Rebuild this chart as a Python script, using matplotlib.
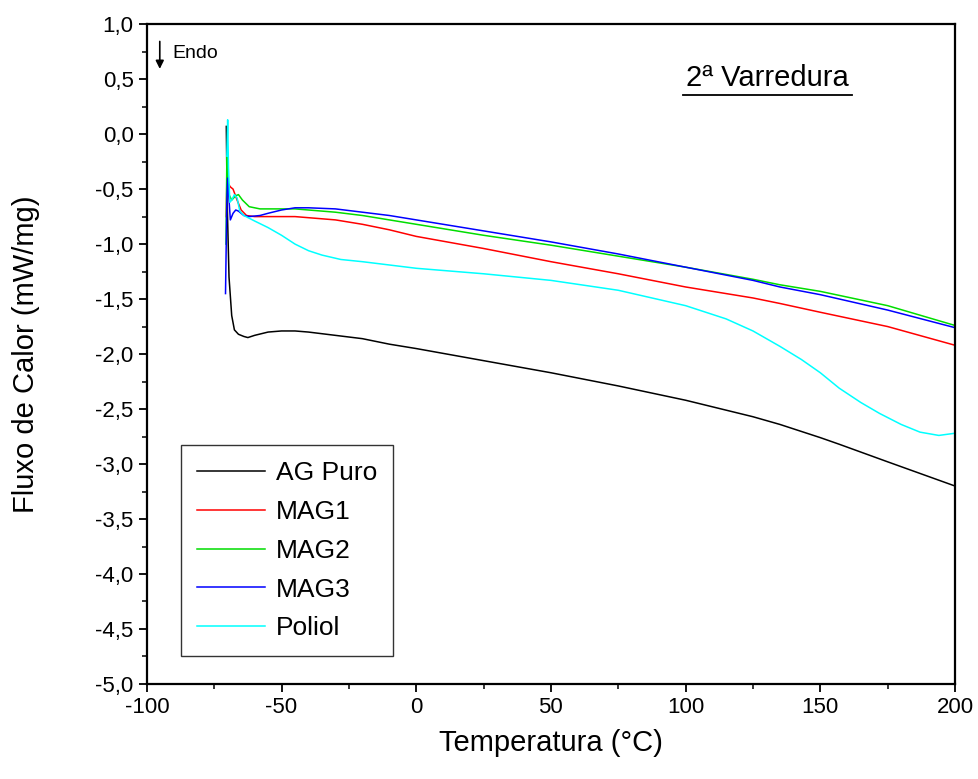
import matplotlib
matplotlib.use('Agg')
import matplotlib.pyplot as plt
from matplotlib.ticker import MultipleLocator, FuncFormatter

plt.rcParams['font.family'] = ['Liberation Sans', 'DejaVu Sans']

t_ag = [-70.5, -70.2, -69.5, -68.5, -67.5, -66, -64, -62.5, -60, -55, -50, -45, -40, -30, -20, -10, 0,
        25, 50, 75, 100, 125, 135, 150, 157, 175, 200]
ag_puro = [0.07, -0.6, -1.3, -1.65, -1.78, -1.82, -1.84, -1.85, -1.83, -1.80, -1.79, -1.79, -1.80, -1.83,
           -1.86, -1.91, -1.95, -2.06, -2.17, -2.29, -2.42, -2.57, -2.64, -2.76, -2.82, -2.98, -3.20]

t_mag1 = [-70.5, -70.2, -69.8, -69, -68, -66.5, -65, -63, -60, -55, -50, -45, -40, -30, -20, -10, 0,
          25, 50, 75, 100, 125, 135, 150, 175, 200]
mag1 = [-0.75, -0.25, -0.45, -0.48, -0.50, -0.6, -0.69, -0.74, -0.75, -0.75, -0.75, -0.75, -0.76, -0.78,
        -0.82, -0.87, -0.93, -1.04, -1.16, -1.27, -1.39, -1.49, -1.54, -1.62, -1.75, -1.92]

t_mag2 = [-70.6, -70.3, -70.0, -69.5, -68.5, -67, -66, -64.5, -62, -58, -55, -50, -45, -40, -30, -20,
          -10, 0, 25, 50, 75, 100, 125, 135, 150, 175, 200]
mag2 = [-1.0, -0.2, -0.35, -0.55, -0.6, -0.56, -0.55, -0.6, -0.66, -0.68, -0.68, -0.68, -0.68, -0.69,
        -0.71, -0.74, -0.78, -0.82, -0.92, -1.01, -1.11, -1.21, -1.32, -1.37, -1.43, -1.56, -1.74]

t_mag3 = [-70.8, -70.3, -70.0, -69.5, -69, -68, -67, -66, -64, -62, -58, -55, -50, -45, -40, -30, -20,
          -10, 0, 25, 50, 75, 100, 125, 135, 150, 175, 200]
mag3 = [-1.45, -0.6, -0.4, -0.6, -0.78, -0.72, -0.69, -0.70, -0.74, -0.75, -0.74, -0.72, -0.69, -0.67,
        -0.67, -0.68, -0.71, -0.74, -0.78, -0.88, -0.98, -1.09, -1.21, -1.33, -1.39, -1.46, -1.60, -1.76]

t_pol = [-70.3, -70.0, -69.7, -69.2, -68.5, -67.5, -66.5, -65.5, -64, -60, -55, -50, -45, -40, -35, -28,
         -20, -10, 0, 25, 50, 75, 100, 115, 125, 135, 143, 150, 157, 165, 172, 180, 187, 194, 200]
poliol = [-0.2, 0.13, -0.3, -0.62, -0.6, -0.55, -0.58, -0.7, -0.74, -0.79, -0.85, -0.92, -1.0, -1.06,
          -1.10, -1.14, -1.16, -1.19, -1.22, -1.27, -1.33, -1.42, -1.56, -1.68, -1.79, -1.93, -2.05,
          -2.17, -2.31, -2.44, -2.54, -2.64, -2.71, -2.74, -2.72]

fig = plt.figure(figsize=(9.79, 7.79), dpi=100)
ax = fig.add_axes([0.150, 0.122, 0.8255, 0.847])

ax.plot(t_ag, ag_puro, color='black', lw=1.1, label='AG Puro')
ax.plot(t_mag1, mag1, color='#ff0000', lw=1.1, label='MAG1')
ax.plot(t_mag2, mag2, color='#00dd00', lw=1.1, label='MAG2')
ax.plot(t_mag3, mag3, color='#0000ff', lw=1.1, label='MAG3')
ax.plot(t_pol, poliol, color='#00ffff', lw=1.1, label='Poliol')

ax.set_xlim(-100, 200)
ax.set_ylim(-5.0, 1.0)
ax.xaxis.set_major_locator(MultipleLocator(50))
ax.xaxis.set_minor_locator(MultipleLocator(25))
ax.yaxis.set_major_locator(MultipleLocator(0.5))
ax.yaxis.set_minor_locator(MultipleLocator(0.25))
ax.yaxis.set_major_formatter(FuncFormatter(lambda v, p: f'{v:.1f}'.replace('.', ',')))
ax.xaxis.set_major_formatter(FuncFormatter(lambda v, p: f'{v:.0f}'))
ax.tick_params(which='major', direction='out', length=6, width=1.3, labelsize=16)
ax.tick_params(which='minor', direction='out', length=3.5, width=1.1)
for s in ax.spines.values():
    s.set_linewidth(1.6)

ax.set_xlabel('Temperatura (°C)', fontsize=21, labelpad=8)
ax.set_ylabel('Fluxo de Calor (mW/mg)', fontsize=21, labelpad=40)

leg = ax.legend(loc='lower left', bbox_to_anchor=(0.042, 0.042), borderaxespad=0, fontsize=19,
                frameon=True, fancybox=False, edgecolor='black', handlelength=2.6,
                handletextpad=0.4, labelspacing=0.56, borderpad=0.6)
leg.get_frame().set_linewidth(1.0)

# marcador Endo
ax.annotate('', xy=(0.016, 0.928), xytext=(0.016, 0.978), xycoords='axes fraction',
            arrowprops=dict(arrowstyle='-|>', color='black', lw=1.2, mutation_scale=12))
ax.text(0.032, 0.955, 'Endo', transform=ax.transAxes, fontsize=14, va='center', ha='left')

ax.text(0.768, 0.897, '2ª Varredura', transform=ax.transAxes, fontsize=21, ha='center', va='bottom')
ax.plot([0.663, 0.873], [0.892, 0.892], transform=ax.transAxes, color='black', lw=1.3,
        clip_on=False)

fig.savefig('out.png', dpi=100)
